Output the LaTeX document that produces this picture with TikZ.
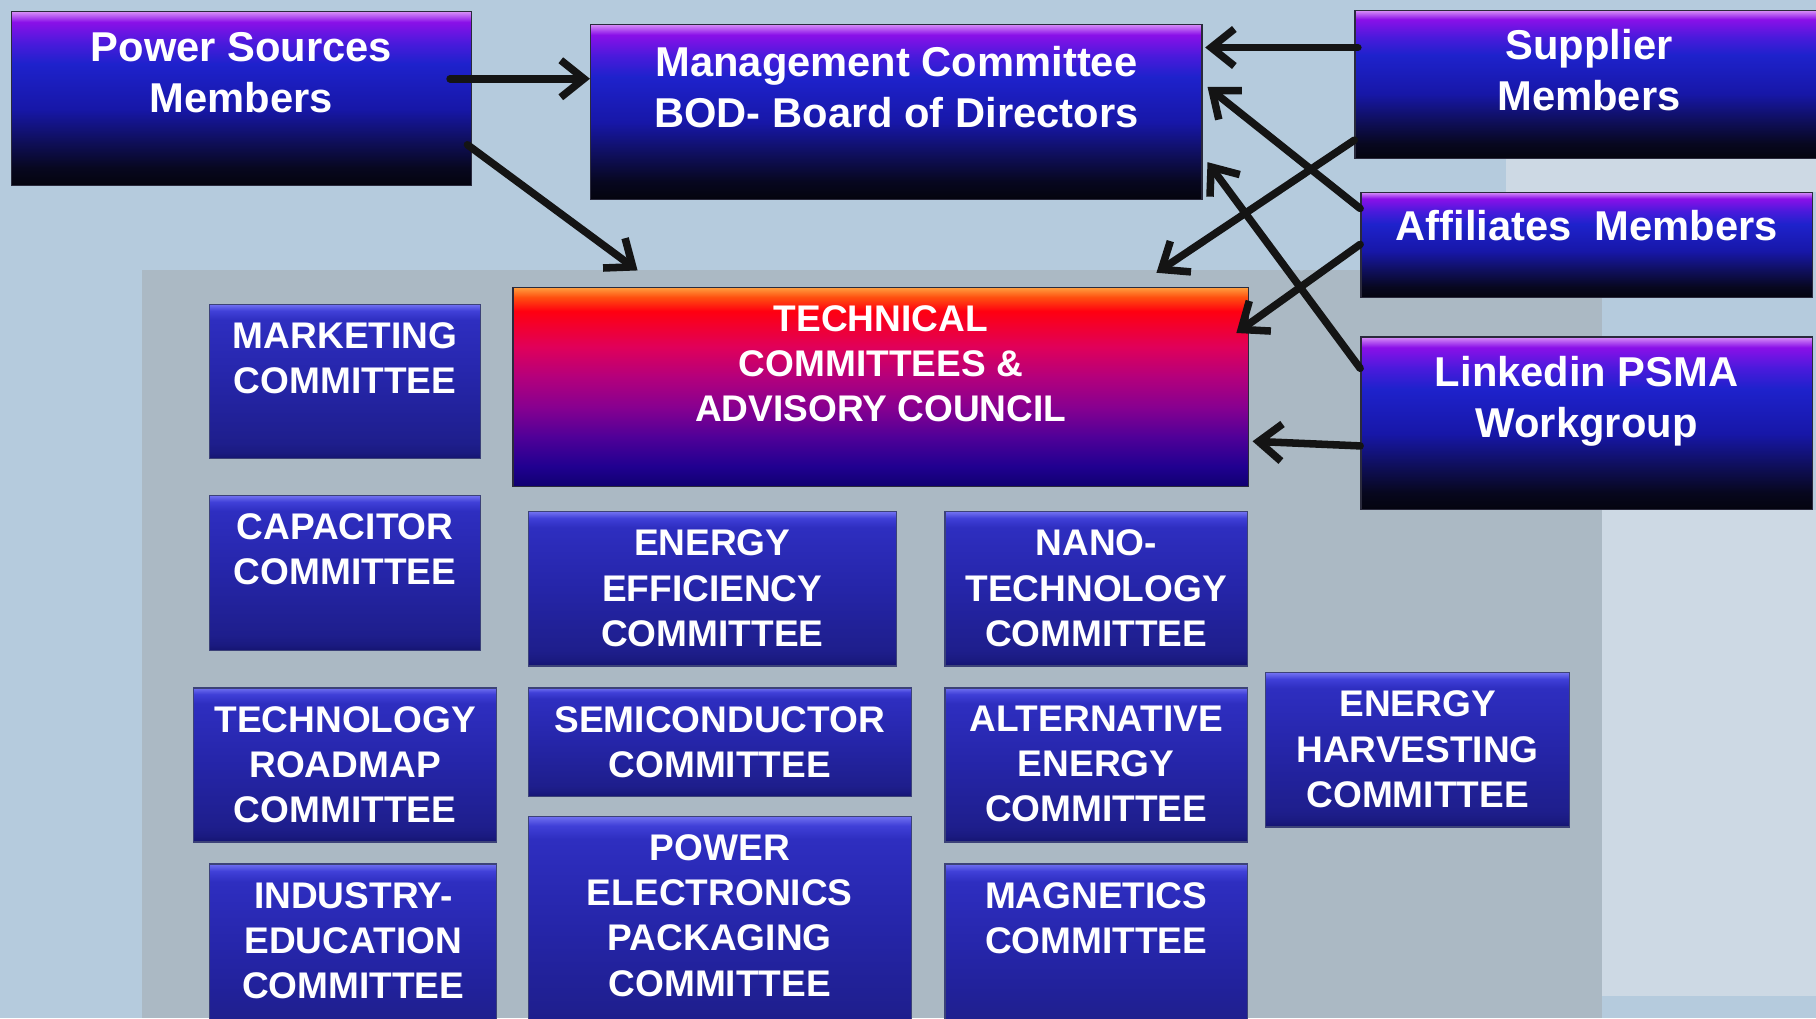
\documentclass[tikz,border=0pt]{standalone}
\usepackage{fontspec}
\setmainfont{Liberation Sans}
\usetikzlibrary{arrows.meta,calc}
\definecolor{bgblue}{HTML}{B5CBDD}
\definecolor{bgtex}{HTML}{ABB9C4}
\definecolor{bgpale}{HTML}{CDD9E4}
\definecolor{hlineC}{HTML}{2A2A3C}
\definecolor{clineC}{HTML}{3C4278}
% header shading colours
\definecolor{h0}{HTML}{04040E}
\definecolor{h1}{HTML}{07071F}
\definecolor{h2}{HTML}{0E0E55}
\definecolor{h3}{HTML}{1717A8}
\definecolor{h4}{HTML}{1E22CC}
\definecolor{h5}{HTML}{4A1ADC}
\definecolor{h6}{HTML}{8A10E8}
\definecolor{h7}{HTML}{D890F8}
% technical shading colours
\definecolor{t0}{HTML}{100070}
\definecolor{t1}{HTML}{200090}
\definecolor{t2}{HTML}{500098}
\definecolor{t3}{HTML}{880090}
\definecolor{t4}{HTML}{B4007C}
\definecolor{t5}{HTML}{E0005A}
\definecolor{t6}{HTML}{FF0010}
\definecolor{t7}{HTML}{FF5010}
\definecolor{t8}{HTML}{FFA040}
% committee shading colours
\definecolor{c0}{HTML}{141470}
\definecolor{c1}{HTML}{1A1A80}
\definecolor{c2}{HTML}{1E1E8C}
\definecolor{c3}{HTML}{2525A8}
\definecolor{c4}{HTML}{2E2EC0}
\definecolor{c5}{HTML}{4040D8}
\definecolor{c6}{HTML}{7070F0}
\pgfdeclareverticalshading{hdrshade}{100bp}{color(0bp)=(h0); color(25bp)=(h0); color(30bp)=(h1); color(37bp)=(h2); color(47bp)=(h3); color(60bp)=(h4); color(66bp)=(h5); color(72bp)=(h6); color(75bp)=(h7); color(100bp)=(h7)}
\pgfdeclareverticalshading{tcshade}{100bp}{color(0bp)=(t0); color(25bp)=(t0); color(30bp)=(t1); color(37.5bp)=(t2); color(45bp)=(t3); color(52.5bp)=(t4); color(60bp)=(t5); color(69bp)=(t6); color(72.5bp)=(t7); color(75bp)=(t8); color(100bp)=(t8)}
\pgfdeclareverticalshading{cmshade}{100bp}{color(0bp)=(c0); color(25bp)=(c0); color(27bp)=(c1); color(30bp)=(c2); color(50bp)=(c3); color(70bp)=(c4); color(73bp)=(c5); color(75bp)=(c6); color(100bp)=(c6)}
\begin{document}
\begin{tikzpicture}[x=1pt,y=-1pt,
  hdrbox/.style={shading=hdrshade, draw=hlineC, line width=1.2pt, inner sep=0pt},
  tcbox/.style={shading=tcshade, draw=hlineC, line width=1pt, inner sep=0pt},
  cmbox/.style={shading=cmshade, draw=clineC, line width=1pt, inner sep=0pt},
  hdrtxt/.style={anchor=north, inner sep=0pt, align=center, text=white, font=\bfseries\fontsize{36}{44}\selectfont},
  cmtxt/.style={anchor=north, inner sep=0pt, align=center, text=white, font=\bfseries\fontsize{32}{39}\selectfont},
  arr/.style={draw=black!92, line width=6.5pt, line cap=round, line join=round, -{Straight Barb[length=20pt,width=32pt]}}
]
\useasboundingbox (0,0) rectangle (1568,879);
% background
\fill[bgblue] (0,0) rectangle (1568,879);
\fill[bgtex] (123,233) rectangle (1383,879);
\fill[bgpale] (1383,440) rectangle (1568,860);
\fill[bgpale] (1300,137) rectangle (1568,166);

% header boxes
\node[hdrbox, minimum width=397pt, minimum height=150pt] (ps) at (208.5,85) {};
\node[hdrtxt] (pst) at ($(ps.north)+(0,18)$) {Power Sources\\Members};
\node[hdrbox, minimum width=528pt, minimum height=151pt] (mg) at (774,96.5) {};
\node[hdrtxt] (mgt) at ($(mg.north)+(0,19)$) {Management Committee\\BOD- Board of Directors};
\node[hdrbox, minimum width=404pt, minimum height=128pt] (sp) at (1372,73) {};
\node[hdrtxt] (spt) at ($(sp.north)+(0,17)$) {Supplier\\Members};
\node[hdrbox, minimum width=390pt, minimum height=91pt] (af) at (1370,211.5) {};
\node[hdrtxt] (aft) at ($(af.north)+(0,16)$) {Affiliates\ \ Members};
\node[hdrbox, minimum width=390pt, minimum height=149pt] (lk) at (1370,365.5) {};
\node[hdrtxt] (lkt) at ($(lk.north)+(0,17)$) {Linkedin PSMA\\Workgroup};

% technical box
\node[tcbox, minimum width=635pt, minimum height=172pt] (tc) at (760.5,334) {};
\node[cmtxt] (tct) at ($(tc.north)+(0,16)$) {TECHNICAL\\COMMITTEES \&\\ADVISORY COUNCIL};

% committees
\node[cmbox, minimum width=234pt, minimum height=133pt] (mk) at (298,329.5) {};
\node[cmtxt] at ($(mk.north)+(0,16)$) {MARKETING\\COMMITTEE};
\node[cmbox, minimum width=234pt, minimum height=134pt] (cp) at (298,495) {};
\node[cmtxt] at ($(cp.north)+(0,16)$) {CAPACITOR\\COMMITTEE};
\node[cmbox, minimum width=318pt, minimum height=133pt] (ee) at (615,508.5) {};
\node[cmtxt] at ($(ee.north)+(0,16)$) {ENERGY\\EFFICIENCY\\COMMITTEE};
\node[cmbox, minimum width=261pt, minimum height=133pt] (nt) at (946.5,508.5) {};
\node[cmtxt] at ($(nt.north)+(0,16)$) {NANO-\\TECHNOLOGY\\COMMITTEE};
\node[cmbox, minimum width=262pt, minimum height=133pt] (tr) at (298,660.5) {};
\node[cmtxt] at ($(tr.north)+(0,16)$) {TECHNOLOGY\\ROADMAP\\COMMITTEE};
\node[cmbox, minimum width=331pt, minimum height=94pt] (sc) at (621.5,641) {};
\node[cmtxt] at ($(sc.north)+(0,16)$) {SEMICONDUCTOR\\COMMITTEE};
\node[cmbox, minimum width=261pt, minimum height=133pt] (ae) at (946.5,660.5) {};
\node[cmtxt] at ($(ae.north)+(0,16)$) {ALTERNATIVE\\ENERGY\\COMMITTEE};
\node[cmbox, minimum width=262pt, minimum height=133pt] (eh) at (1224,647.5) {};
\node[cmtxt] at ($(eh.north)+(0,16)$) {ENERGY\\HARVESTING\\COMMITTEE};
\node[cmbox, minimum width=248pt, minimum height=154pt] (ie) at (305,823) {};
\node[cmtxt] at ($(ie.north)+(0,16)$) {INDUSTRY-\\EDUCATION\\COMMITTEE};
\node[cmbox, minimum width=331pt, minimum height=195pt] (pe) at (621.5,802.5) {};
\node[cmtxt] at ($(pe.north)+(0,16)$) {POWER\\ELECTRONICS\\PACKAGING\\COMMITTEE};
\node[cmbox, minimum width=261pt, minimum height=154pt] (mn) at (946.5,823) {};
\node[cmtxt] at ($(mn.north)+(0,16)$) {MAGNETICS\\COMMITTEE};

% connectors
\draw[arr] ($(ps.east)+(-19,-17)$) -- ($(mg.west)+(0,-28.5)$);
\draw[arr] ($(ps.east)+(-4,40)$) -- ($(tc.north west)+(108,-14)$);
\draw[arr] ($(sp.west)+(3,-32)$) -- ($(mg.east)+(2,-55.5)$);
\draw[arr] ($(af.west)+(0,-31.5)$) -- ($(mg.east)+(4,-21.5)$);
\draw[arr] ($(lk.west)+(0,-47.5)$) -- ($(mg.east)+(4,43.5)$);
\draw[arr] ($(sp.west)+(0,48)$) -- ($(tc.north east)+(-80,-12)$);
\draw[arr] ($(af.west)+(0,-0.5)$) -- ($(tc.north east)+(-11,40)$);
\draw[arr] ($(lk.west)+(0,19.5)$) -- ($(tc.east)+(3,47)$);
\end{tikzpicture}
\end{document}
